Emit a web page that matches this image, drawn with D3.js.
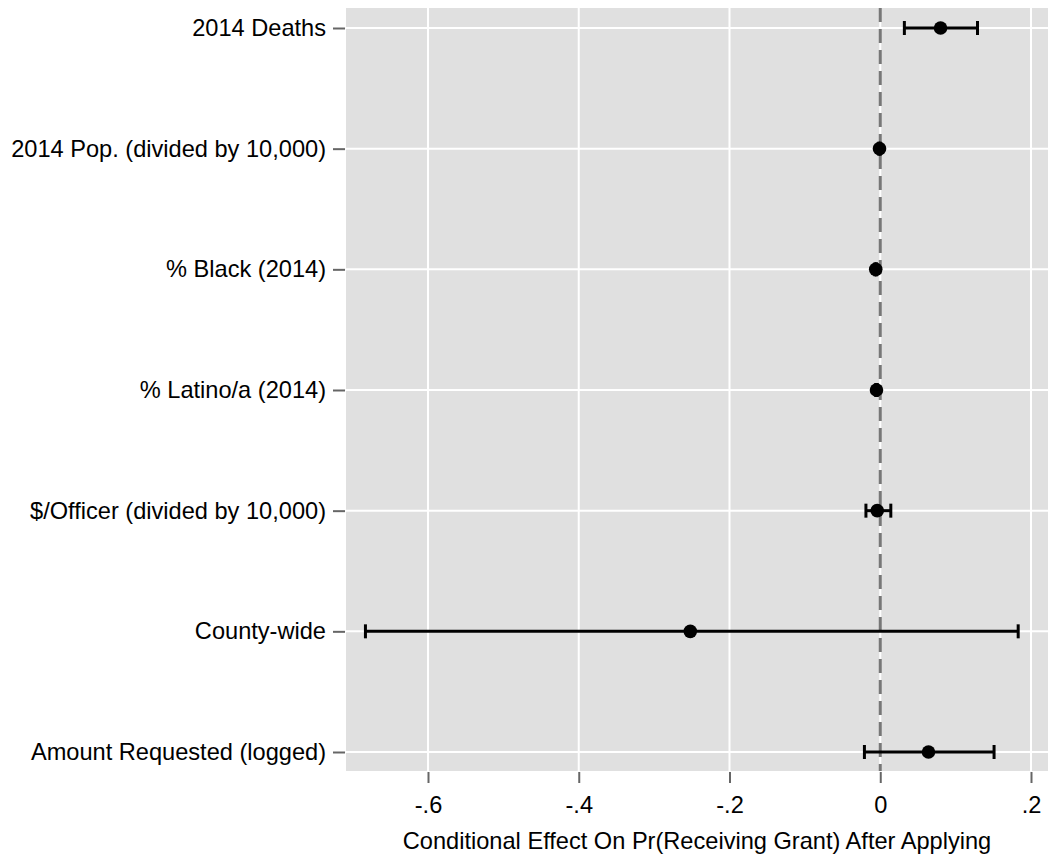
<!DOCTYPE html>
<html>
<head>
<meta charset="utf-8">
<script src="https://cdn.jsdelivr.net/npm/d3@7"></script>
<style>
  body { margin: 0; background: #fff; }
  text { font-family: "Liberation Sans", Arial, sans-serif; fill: #000; }
</style>
</head>
<body>
<div id="chart"></div>
<script>
const width = 1049;
const height = 861;

const labels = [
  "2014 Deaths",
  "2014 Pop. (divided by 10,000)",
  "% Black (2014)",
  "% Latino/a (2014)",
  "$/Officer (divided by 10,000)",
  "County-wide",
  "Amount Requested (logged)"
];
const estimates = [0.080, -0.001, -0.006, -0.005, -0.004, -0.252, 0.064];
const lower = [0.032, -0.002, -0.007, -0.006, -0.019, -0.683, -0.021];
const upper = [0.129, 0.000, -0.005, -0.004, 0.014, 0.183, 0.151];
const xTicks = [-0.6, -0.4, -0.2, 0, 0.2];
const xTickLabels = ["-.6", "-.4", "-.2", "0", ".2"];

const plot = { left: 346, right: 1048, top: 8, bottom: 771 };

const x = d3.scaleLinear()
  .domain([-0.6, 0.2])
  .range([428, 1031]);

const y = d3.scalePoint()
  .domain(labels)
  .range([28, 752]);

const svg = d3.select("#chart")
  .append("svg")
  .attr("width", width)
  .attr("height", height);

svg.append("rect")
  .attr("x", plot.left)
  .attr("y", plot.top)
  .attr("width", plot.right - plot.left)
  .attr("height", plot.bottom - plot.top)
  .attr("fill", "#e0e0e0");

// grid
svg.append("g")
  .selectAll("line")
  .data(xTicks)
  .enter()
  .append("line")
  .attr("x1", d => x(d)).attr("x2", d => x(d))
  .attr("y1", plot.top).attr("y2", plot.bottom)
  .attr("stroke", "#fff")
  .attr("stroke-width", 2);

svg.append("g")
  .selectAll("line")
  .data(labels)
  .enter()
  .append("line")
  .attr("x1", plot.left).attr("x2", plot.right)
  .attr("y1", d => y(d)).attr("y2", d => y(d))
  .attr("stroke", "#fff")
  .attr("stroke-width", 2);

// x axis
const xAxis = d3.axisBottom(x)
  .tickValues(xTicks)
  .tickFormat((d, i) => xTickLabels[i])
  .tickSize(11)
  .tickPadding(13);

const gx = svg.append("g")
  .attr("transform", `translate(0, ${plot.bottom + 1})`)
  .call(xAxis);
gx.select(".domain").remove();
gx.selectAll(".tick line").attr("stroke", "#666").attr("stroke-width", 2);
gx.selectAll(".tick text").style("font-size", "23.6px").attr("fill", "#000");

// y axis
const yAxis = d3.axisLeft(y)
  .tickSize(12)
  .tickPadding(7);

const gy = svg.append("g")
  .attr("transform", `translate(${plot.left - 1}, 0)`)
  .call(yAxis);
gy.select(".domain").remove();
gy.selectAll(".tick line").attr("stroke", "#666").attr("stroke-width", 2);
gy.selectAll(".tick text").style("font-size", "23.6px").attr("fill", "#000");

// axis title
svg.append("text")
  .attr("x", (plot.left + plot.right) / 2)
  .attr("y", 849)
  .attr("text-anchor", "middle")
  .style("font-size", "23.6px")
  .text("Conditional Effect On Pr(Receiving Grant) After Applying");

// zero reference line
svg.append("line")
  .attr("x1", x(0)).attr("x2", x(0))
  .attr("y1", plot.top).attr("y2", plot.bottom)
  .attr("stroke", "#777")
  .attr("stroke-width", 3)
  .attr("stroke-dasharray", "14,7");

const rows = labels.map((l, i) => ({ label: l, est: estimates[i], lo: lower[i], hi: upper[i] }));

const g = svg.append("g");

g.selectAll(".ci")
  .data(rows)
  .enter()
  .append("line")
  .attr("x1", d => x(d.lo)).attr("x2", d => x(d.hi))
  .attr("y1", d => y(d.label)).attr("y2", d => y(d.label))
  .attr("stroke", "#000")
  .attr("stroke-width", 3);

g.selectAll(".capl")
  .data(rows)
  .enter()
  .append("line")
  .attr("x1", d => x(d.lo)).attr("x2", d => x(d.lo))
  .attr("y1", d => y(d.label) - 7).attr("y2", d => y(d.label) + 7)
  .attr("stroke", "#000")
  .attr("stroke-width", 3);

g.selectAll(".caph")
  .data(rows)
  .enter()
  .append("line")
  .attr("x1", d => x(d.hi)).attr("x2", d => x(d.hi))
  .attr("y1", d => y(d.label) - 7).attr("y2", d => y(d.label) + 7)
  .attr("stroke", "#000")
  .attr("stroke-width", 3);

g.selectAll("circle")
  .data(rows)
  .enter()
  .append("circle")
  .attr("cx", d => x(d.est))
  .attr("cy", d => y(d.label))
  .attr("r", 6.8)
  .attr("fill", "#000");
</script>
</body>
</html>
